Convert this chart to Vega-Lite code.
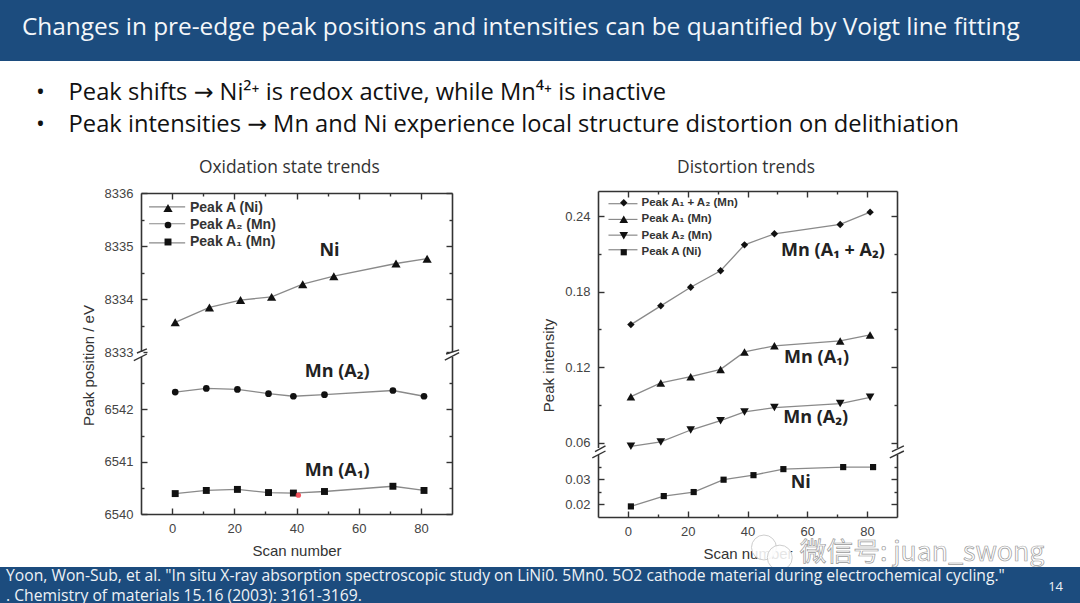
{"$schema":"https://vega.github.io/schema/vega-lite/v6.json","padding":0,"background":"white","spacing":0,"bounds":"flush","config":{"view":{"stroke":null},"axis":{"grid":false,"domainColor":"#333","tickColor":"#333","labelColor":"#444","titleColor":"#333","labelFont":"Liberation Sans","titleFont":"Liberation Sans","labelFontSize":13,"titleFontSize":15,"titleFontWeight":"normal","domainWidth":1.6,"tickWidth":1.4}},"datasets":{"leftData":[{"scan":1,"v":8333.56,"s":"Peak A (Ni)"},{"scan":12,"v":8333.84,"s":"Peak A (Ni)"},{"scan":22,"v":8333.98,"s":"Peak A (Ni)"},{"scan":32,"v":8334.04,"s":"Peak A (Ni)"},{"scan":42,"v":8334.28,"s":"Peak A (Ni)"},{"scan":52,"v":8334.43,"s":"Peak A (Ni)"},{"scan":72,"v":8334.67,"s":"Peak A (Ni)"},{"scan":82,"v":8334.76,"s":"Peak A (Ni)"},{"scan":1,"v":6542.33,"s":"Peak A₂ (Mn)"},{"scan":11,"v":6542.4,"s":"Peak A₂ (Mn)"},{"scan":21,"v":6542.38,"s":"Peak A₂ (Mn)"},{"scan":31,"v":6542.3,"s":"Peak A₂ (Mn)"},{"scan":39,"v":6542.25,"s":"Peak A₂ (Mn)"},{"scan":49,"v":6542.28,"s":"Peak A₂ (Mn)"},{"scan":71,"v":6542.36,"s":"Peak A₂ (Mn)"},{"scan":81,"v":6542.25,"s":"Peak A₂ (Mn)"},{"scan":1,"v":6540.39,"s":"Peak A₁ (Mn)"},{"scan":11,"v":6540.45,"s":"Peak A₁ (Mn)"},{"scan":21,"v":6540.47,"s":"Peak A₁ (Mn)"},{"scan":31,"v":6540.41,"s":"Peak A₁ (Mn)"},{"scan":39,"v":6540.4,"s":"Peak A₁ (Mn)"},{"scan":49,"v":6540.43,"s":"Peak A₁ (Mn)"},{"scan":71,"v":6540.53,"s":"Peak A₁ (Mn)"},{"scan":81,"v":6540.45,"s":"Peak A₁ (Mn)"}],"rightData":[{"scan":1,"v":0.1538,"s":"Peak A₁ + A₂ (Mn)"},{"scan":11,"v":0.1687,"s":"Peak A₁ + A₂ (Mn)"},{"scan":21,"v":0.1835,"s":"Peak A₁ + A₂ (Mn)"},{"scan":31,"v":0.1966,"s":"Peak A₁ + A₂ (Mn)"},{"scan":39,"v":0.2172,"s":"Peak A₁ + A₂ (Mn)"},{"scan":49,"v":0.226,"s":"Peak A₁ + A₂ (Mn)"},{"scan":71,"v":0.2334,"s":"Peak A₁ + A₂ (Mn)"},{"scan":81,"v":0.2432,"s":"Peak A₁ + A₂ (Mn)"},{"scan":1,"v":0.0965,"s":"Peak A₁ (Mn)"},{"scan":11,"v":0.1074,"s":"Peak A₁ (Mn)"},{"scan":21,"v":0.1124,"s":"Peak A₁ (Mn)"},{"scan":31,"v":0.1182,"s":"Peak A₁ (Mn)"},{"scan":39,"v":0.1321,"s":"Peak A₁ (Mn)"},{"scan":49,"v":0.1369,"s":"Peak A₁ (Mn)"},{"scan":71,"v":0.1408,"s":"Peak A₁ (Mn)"},{"scan":81,"v":0.1456,"s":"Peak A₁ (Mn)"},{"scan":1,"v":0.057,"s":"Peak A₂ (Mn)"},{"scan":11,"v":0.0605,"s":"Peak A₂ (Mn)"},{"scan":21,"v":0.07,"s":"Peak A₂ (Mn)"},{"scan":31,"v":0.0774,"s":"Peak A₂ (Mn)"},{"scan":39,"v":0.0844,"s":"Peak A₂ (Mn)"},{"scan":49,"v":0.0878,"s":"Peak A₂ (Mn)"},{"scan":71,"v":0.091,"s":"Peak A₂ (Mn)"},{"scan":81,"v":0.096,"s":"Peak A₂ (Mn)"},{"scan":1,"v":0.0192,"s":"Peak A (Ni)"},{"scan":12,"v":0.0233,"s":"Peak A (Ni)"},{"scan":22,"v":0.0249,"s":"Peak A (Ni)"},{"scan":32,"v":0.0298,"s":"Peak A (Ni)"},{"scan":42,"v":0.0316,"s":"Peak A (Ni)"},{"scan":52,"v":0.034,"s":"Peak A (Ni)"},{"scan":72,"v":0.0348,"s":"Peak A (Ni)"},{"scan":82,"v":0.0348,"s":"Peak A (Ni)"}]},"vconcat":[{"width":1080,"height":61,"view":{"fill":"#1c4c7e","stroke":null},"data":{"values":[{"t":"Changes in pre-edge peak positions and intensities can be quantified by Voigt line fitting"}]},"mark":{"type":"text","align":"left","dx":22,"dy":-3,"font":"Open Sans","fontSize":24.4,"color":"#f4f7fa"},"encoding":{"text":{"field":"t"},"x":{"datum":0,"type":"quantitative","scale":{"domain":[0,1]},"axis":null}}},{"width":1080,"height":89,"data":{"values":[{"t":"•\u2003Peak shifts → Ni²⁺ is redox active, while Mn⁴⁺ is inactive\n•\u2003Peak intensities → Mn and Ni experience local structure distortion on delithiation"}]},"mark":{"type":"text","align":"left","dx":36,"dy":-12.5,"font":"Open Sans, DejaVu Sans","fontSize":23.7,"lineBreak":"\n","lineHeight":32,"color":"#111"},"encoding":{"text":{"field":"t"},"x":{"datum":0,"type":"quantitative","scale":{"domain":[0,1]},"axis":null}}},{"width":1080,"height":417,"resolve":{"scale":{"x":"independent","y":"independent","shape":"independent","size":"independent"},"axis":{"x":"independent","y":"independent"},"legend":{"shape":"independent","size":"independent"}},"layer":[{"data":{"name":"leftData"},"mark":{"type":"line","color":"#8a8a8a","strokeWidth":1.3},"encoding":{"detail":{"field":"s"},"x":{"field":"scan","type":"quantitative","title":"Scan number","scale":{"domain":[-10,90],"range":[141,452],"nice":false,"zero":false},"axis":{"orient":"bottom","offset":-53,"values":[0,20,40,60,80],"tickSize":-6,"labelPadding":14,"titlePadding":8}},"y":{"field":"v","type":"quantitative","title":"Peak position / eV","scale":{"domain":[6540,6543,8333,8336],"range":[364,207,202,43],"nice":false,"zero":false},"axis":{"orient":"left","offset":-141,"values":[6540,6541,6542,8333,8334,8335,8336],"format":"d","tickSize":-6,"labelPadding":14,"titlePadding":8,"titleY":215}}}},{"data":{"name":"leftData"},"mark":{"type":"point","filled":true,"color":"#111","opacity":1},"encoding":{"shape":{"field":"s","type":"nominal","scale":{"domain":["Peak A (Ni)","Peak A₂ (Mn)","Peak A₁ (Mn)"],"range":["triangle-up","circle","square"]},"legend":{"orient":"none","legendX":161,"legendY":51,"title":null,"labelFont":"Liberation Sans","labelFontSize":14,"labelFontWeight":"bold","labelColor":"#333","symbolFillColor":"#111","symbolStrokeColor":"#111","rowPadding":3,"labelOffset":15,"padding":0}},"size":{"field":"s","type":"nominal","scale":{"type":"ordinal","domain":["Peak A (Ni)","Peak A₂ (Mn)","Peak A₁ (Mn)"],"range":[85,45,48]},"legend":{"orient":"none","legendX":161,"legendY":51,"title":null,"labelFont":"Liberation Sans","labelFontSize":14,"labelFontWeight":"bold","labelColor":"#333","symbolFillColor":"#111","symbolStrokeColor":"#111","rowPadding":3,"labelOffset":15,"padding":0}},"x":{"field":"scan","type":"quantitative","scale":{"domain":[-10,90],"range":[141,452],"nice":false,"zero":false},"axis":{"orient":"top","offset":-43,"values":[0,20,40,60,80],"tickSize":-6,"labels":false,"title":null}},"y":{"field":"v","type":"quantitative","scale":{"domain":[6540,6543,8333,8336],"range":[364,207,202,43],"nice":false,"zero":false},"axis":{"orient":"right","offset":-628,"values":[6540,6541,6542,8333,8334,8335,8336],"tickSize":-6,"labels":false,"title":null}}}},{"data":{"values":[{"x":-7.4,"x2":4.2,"y":8335.74},{"x":-7.4,"x2":4.2,"y":8335.42},{"x":-7.4,"x2":4.2,"y":8335.06}]},"mark":{"type":"rule","color":"#8a8a8a","strokeWidth":1.2},"encoding":{"x":{"field":"x","type":"quantitative","scale":{"domain":[-10,90],"range":[141,452],"nice":false,"zero":false},"axis":{"orient":"bottom","offset":-53,"values":[10,30,50,70],"tickSize":-3,"labels":false,"domain":false,"title":null}},"x2":{"field":"x2"},"y":{"field":"y","type":"quantitative","scale":{"domain":[6540,6543,8333,8336],"range":[364,207,202,43],"nice":false,"zero":false},"axis":{"orient":"left","offset":-141,"values":[6540.5,6541.5,6542.5,8333.5,8334.5,8335.5],"tickSize":-3,"labels":false,"domain":false,"title":null}}}},{"data":{"values":[{"t":"Ni","x":50.6,"y":8334.91},{"t":"Mn (A₂)","x":53.1,"y":6542.71},{"t":"Mn (A₁)","x":53.1,"y":6540.83}]},"mark":{"type":"text","font":"Open Sans","fontWeight":"bold","fontSize":18,"color":"#222"},"encoding":{"text":{"field":"t"},"x":{"field":"x","type":"quantitative","scale":{"domain":[-10,90],"range":[141,452],"nice":false,"zero":false},"axis":{"orient":"top","offset":-43,"values":[10,30,50,70],"tickSize":-3,"labels":false,"domain":false,"title":null}},"y":{"field":"y","type":"quantitative","scale":{"domain":[6540,6543,8333,8336],"range":[364,207,202,43],"nice":false,"zero":false},"axis":{"orient":"right","offset":-628,"values":[6540.5,6541.5,6542.5,8333.5,8334.5,8335.5],"tickSize":-3,"labels":false,"domain":false,"title":null}}}},{"data":{"values":[{"t":"Oxidation state trends","x":37.7,"y":8336.47}]},"mark":{"type":"text","font":"Open Sans","fontSize":17.4,"color":"#333"},"encoding":{"text":{"field":"t"},"x":{"field":"x","type":"quantitative","scale":{"domain":[-10,90],"range":[141,452],"nice":false,"zero":false},"axis":null},"y":{"field":"y","type":"quantitative","scale":{"domain":[6540,6543,8333,8336],"range":[364,207,202,43],"nice":false,"zero":false},"axis":null}}},{"data":{"values":[{"x":-10.8,"x2":-9.2,"y":6543,"y2":8333},{"x":89.2,"x2":90.8,"y":6543,"y2":8333}]},"mark":{"type":"rect","color":"white"},"encoding":{"x":{"field":"x","type":"quantitative","scale":{"domain":[-10,90],"range":[141,452],"nice":false,"zero":false},"axis":null},"x2":{"field":"x2"},"y":{"field":"y","type":"quantitative","scale":{"domain":[6540,6543,8333,8336],"range":[364,207,202,43],"nice":false,"zero":false},"axis":null},"y2":{"field":"y2"}}},{"data":{"values":[{"x":-12.3,"x2":-8.1,"y":6542.93,"y2":7617},{"x":-11.3,"x2":-8.1,"y":7975,"y2":8333.06},{"x":87.7,"x2":92.3,"y":6542.94,"y2":8082},{"x":88.1,"x2":92.3,"y":7617,"y2":8333.04}]},"mark":{"type":"rule","color":"#333","strokeWidth":1.4},"encoding":{"x":{"field":"x","type":"quantitative","scale":{"domain":[-10,90],"range":[141,452],"nice":false,"zero":false},"axis":null},"x2":{"field":"x2"},"y":{"field":"y","type":"quantitative","scale":{"domain":[6540,6543,8333,8336],"range":[364,207,202,43],"nice":false,"zero":false},"axis":null},"y2":{"field":"y2"}}},{"data":{"values":[{"x":40.6,"y":6540.36}]},"mark":{"type":"point","filled":true,"color":"#f4444f","opacity":0.9,"size":28},"encoding":{"x":{"field":"x","type":"quantitative","scale":{"domain":[-10,90],"range":[141,452],"nice":false,"zero":false},"axis":null},"y":{"field":"y","type":"quantitative","scale":{"domain":[6540,6543,8333,8336],"range":[364,207,202,43],"nice":false,"zero":false},"axis":null}}},{"data":{"name":"rightData"},"mark":{"type":"line","color":"#8a8a8a","strokeWidth":1.3},"encoding":{"detail":{"field":"s"},"x":{"field":"scan","type":"quantitative","title":"Scan number","scale":{"domain":[-10,90],"range":[598,897],"nice":false,"zero":false},"axis":{"orient":"bottom","offset":-50,"values":[0,20,40,60,80],"tickSize":-6,"labelPadding":14,"titlePadding":8}},"y":{"field":"v","type":"quantitative","title":"Peak intensity","scale":{"domain":[0.015,0.0396,0.0557,0.26],"range":[367,305,298,41],"nice":false,"zero":false},"axis":{"orient":"left","offset":-598,"values":[0.02,0.03,0.06,0.12,0.18,0.24],"format":".2f","tickSize":-6,"labelPadding":14,"titlePadding":8,"titleY":215}}}},{"data":{"name":"rightData"},"mark":{"type":"point","filled":true,"color":"#111","opacity":1},"encoding":{"shape":{"field":"s","type":"nominal","scale":{"domain":["Peak A₁ + A₂ (Mn)","Peak A₁ (Mn)","Peak A₂ (Mn)","Peak A (Ni)"],"range":["diamond","triangle-up","triangle-down","square"]},"legend":{"orient":"none","legendX":618,"legendY":47,"title":null,"labelFont":"Liberation Sans","labelFontSize":11.5,"labelFontWeight":"bold","labelColor":"#333","symbolFillColor":"#111","symbolStrokeColor":"#111","rowPadding":2.5,"labelOffset":12,"padding":0}},"size":{"field":"s","type":"nominal","scale":{"type":"ordinal","domain":["Peak A₁ + A₂ (Mn)","Peak A₁ (Mn)","Peak A₂ (Mn)","Peak A (Ni)"],"range":[55,75,75,38]},"legend":{"orient":"none","legendX":618,"legendY":47,"title":null,"labelFont":"Liberation Sans","labelFontSize":11.5,"labelFontWeight":"bold","labelColor":"#333","symbolFillColor":"#111","symbolStrokeColor":"#111","rowPadding":2.5,"labelOffset":12,"padding":0}},"x":{"field":"scan","type":"quantitative","scale":{"domain":[-10,90],"range":[598,897],"nice":false,"zero":false},"axis":{"orient":"top","offset":-41,"values":[0,20,40,60,80],"tickSize":-6,"labels":false,"title":null}},"y":{"field":"v","type":"quantitative","scale":{"domain":[0.015,0.0396,0.0557,0.26],"range":[367,305,298,41],"nice":false,"zero":false},"axis":{"orient":"right","offset":-183,"values":[0.02,0.03,0.06,0.12,0.18,0.24],"tickSize":-6,"labels":false,"title":null}}}},{"data":{"values":[{"x":-6.5,"x2":3.2,"y":0.2499},{"x":-6.5,"x2":3.2,"y":0.2374},{"x":-6.5,"x2":3.2,"y":0.2249},{"x":-6.5,"x2":3.2,"y":0.2133}]},"mark":{"type":"rule","color":"#8a8a8a","strokeWidth":1.2},"encoding":{"x":{"field":"x","type":"quantitative","scale":{"domain":[-10,90],"range":[598,897],"nice":false,"zero":false},"axis":{"orient":"bottom","offset":-50,"values":[10,30,50,70],"tickSize":-3,"labels":false,"domain":false,"title":null}},"x2":{"field":"x2"},"y":{"field":"y","type":"quantitative","scale":{"domain":[0.015,0.0396,0.0557,0.26],"range":[367,305,298,41],"nice":false,"zero":false},"axis":{"orient":"left","offset":-598,"values":[0.025,0.035,0.09,0.15,0.21],"tickSize":-3,"labels":false,"domain":false,"title":null}}}},{"data":{"values":[{"t":"Mn (A₁ + A₂)","x":68.6,"y":0.2127},{"t":"Mn (A₁)","x":63.1,"y":0.1273},{"t":"Mn (A₂)","x":62.8,"y":0.0796},{"t":"Ni","x":57.8,"y":0.0284}]},"mark":{"type":"text","font":"Open Sans","fontWeight":"bold","fontSize":18,"color":"#222"},"encoding":{"text":{"field":"t"},"x":{"field":"x","type":"quantitative","scale":{"domain":[-10,90],"range":[598,897],"nice":false,"zero":false},"axis":{"orient":"top","offset":-41,"values":[10,30,50,70],"tickSize":-3,"labels":false,"domain":false,"title":null}},"y":{"field":"y","type":"quantitative","scale":{"domain":[0.015,0.0396,0.0557,0.26],"range":[367,305,298,41],"nice":false,"zero":false},"axis":{"orient":"right","offset":-183,"values":[0.025,0.035,0.09,0.15,0.21],"tickSize":-3,"labels":false,"domain":false,"title":null}}}},{"data":{"values":[{"t":"Distortion trends","x":39.5,"y":0.2783}]},"mark":{"type":"text","font":"Open Sans","fontSize":17.4,"color":"#333"},"encoding":{"text":{"field":"t"},"x":{"field":"x","type":"quantitative","scale":{"domain":[-10,90],"range":[598,897],"nice":false,"zero":false},"axis":null},"y":{"field":"y","type":"quantitative","scale":{"domain":[0.015,0.0396,0.0557,0.26],"range":[367,305,298,41],"nice":false,"zero":false},"axis":null}}},{"data":{"values":[{"x":-10.8,"x2":-9.2,"y":0.0396,"y2":0.0557},{"x":89.2,"x2":90.8,"y":0.0396,"y2":0.0557}]},"mark":{"type":"rect","color":"white"},"encoding":{"x":{"field":"x","type":"quantitative","scale":{"domain":[-10,90],"range":[598,897],"nice":false,"zero":false},"axis":null},"x2":{"field":"x2"},"y":{"field":"y","type":"quantitative","scale":{"domain":[0.015,0.0396,0.0557,0.26],"range":[367,305,298,41],"nice":false,"zero":false},"axis":null},"y2":{"field":"y2"}}},{"data":{"values":[{"x":-11.9,"x2":-7.5,"y":0.0385,"y2":0.0488},{"x":-11,"x2":-7.5,"y":0.0472,"y2":0.0573},{"x":87.6,"x2":92.3,"y":0.0385,"y2":0.0488},{"x":88.3,"x2":92.3,"y":0.0472,"y2":0.0573}]},"mark":{"type":"rule","color":"#333","strokeWidth":1.4},"encoding":{"x":{"field":"x","type":"quantitative","scale":{"domain":[-10,90],"range":[598,897],"nice":false,"zero":false},"axis":null},"x2":{"field":"x2"},"y":{"field":"y","type":"quantitative","scale":{"domain":[0.015,0.0396,0.0557,0.26],"range":[367,305,298,41],"nice":false,"zero":false},"axis":null},"y2":{"field":"y2"}}},{"data":{"values":[{"x":45.5,"y":0.0029},{"x":50.8,"y":-0.0011}]},"mark":{"type":"point","filled":true,"color":"white","opacity":0.88,"size":620,"stroke":"#c8c8c8","strokeWidth":1},"encoding":{"x":{"field":"x","type":"quantitative","scale":{"domain":[-10,90],"range":[598,897],"nice":false,"zero":false},"axis":null},"y":{"field":"y","type":"quantitative","scale":{"domain":[0.015,0.0396,0.0557,0.26],"range":[367,305,298,41],"nice":false,"zero":false},"axis":null}}},{"data":{"values":[{"t":"微信号: juan_swong","x":57.5,"y":0.00053}]},"mark":{"type":"text","align":"left","font":"Noto Sans CJK SC","fontSize":26.7,"color":"white","stroke":"#9a9a9a","strokeWidth":0.7},"encoding":{"text":{"field":"t"},"x":{"field":"x","type":"quantitative","scale":{"domain":[-10,90],"range":[598,897],"nice":false,"zero":false},"axis":null},"y":{"field":"y","type":"quantitative","scale":{"domain":[0.015,0.0396,0.0557,0.26],"range":[367,305,298,41],"nice":false,"zero":false},"axis":null}}}]},{"width":1080,"height":36,"view":{"fill":"#1c4c7e","stroke":null},"layer":[{"data":{"values":[{"t":"Yoon, Won-Sub, et al. \"In situ X-ray absorption spectroscopic study on LiNi0. 5Mn0. 5O2 cathode material during electrochemical cycling.\"\n. Chemistry of materials 15.16 (2003): 3161-3169."}]},"mark":{"type":"text","align":"left","dx":6,"dy":-9,"font":"Open Sans","fontSize":15.7,"lineBreak":"\n","lineHeight":20,"color":"#eef2f6"},"encoding":{"text":{"field":"t"},"x":{"datum":0,"type":"quantitative","scale":{"domain":[0,1]},"axis":null}}},{"data":{"values":[{"t":"14"}]},"mark":{"type":"text","align":"right","dx":-17,"dy":2,"font":"Open Sans","fontSize":13,"color":"#eef2f6"},"encoding":{"text":{"field":"t"},"x":{"datum":1,"type":"quantitative","scale":{"domain":[0,1]},"axis":null}}}]}]}
